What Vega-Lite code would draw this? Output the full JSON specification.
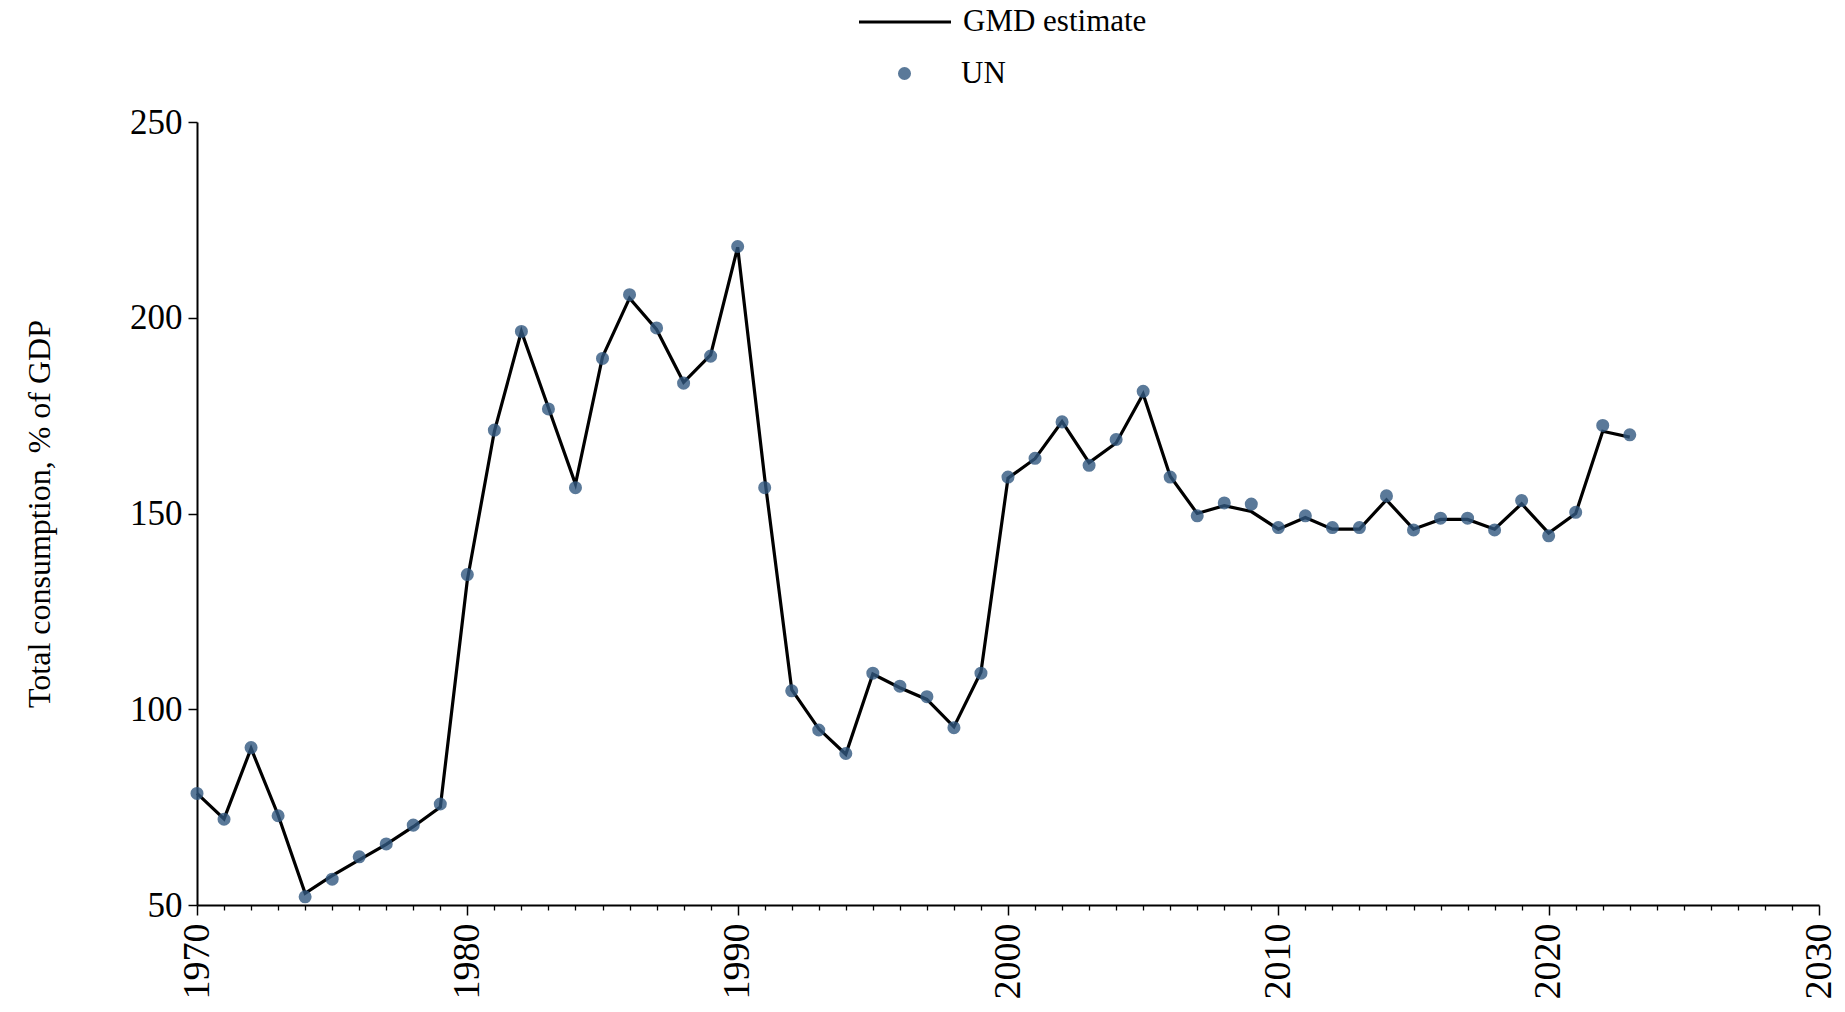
{
  "$schema": "https://vega.github.io/schema/vega-lite/v6.json",
  "autosize": {"type": "none"},
  "width": 1622,
  "height": 783,
  "padding": {"left": 197, "top": 122, "right": 26, "bottom": 107},
  "background": "white",
  "config": {
    "view": {"stroke": null},
    "font": "Liberation Serif",
    "axis": {"labelFont": "Liberation Serif", "titleFont": "Liberation Serif", "labelColor": "black", "titleColor": "black", "domainColor": "black", "tickColor": "black", "grid": false, "titleFontWeight": "normal"},
    "legend": {"labelFont": "Liberation Serif", "labelColor": "black", "padding": 0}
  },
  "data": {"values": [
    {"year": 1970, "gmd": 78.5, "un": 78.5},
    {"year": 1971, "gmd": 72, "un": 71.9},
    {"year": 1972, "gmd": 90, "un": 90.2},
    {"year": 1973, "gmd": 73, "un": 72.8},
    {"year": 1974, "gmd": 53, "un": 52.1},
    {"year": 1975, "gmd": 57.5, "un": 56.6},
    {"year": 1976, "gmd": 61.5, "un": 62.3},
    {"year": 1977, "gmd": 65.5, "un": 65.6},
    {"year": 1978, "gmd": 70, "un": 70.4},
    {"year": 1979, "gmd": 75, "un": 75.8},
    {"year": 1980, "gmd": 133, "un": 134.4},
    {"year": 1981, "gmd": 171, "un": 171.3},
    {"year": 1982, "gmd": 196.5, "un": 196.5},
    {"year": 1983, "gmd": 177, "un": 176.7},
    {"year": 1984, "gmd": 157.5, "un": 156.6},
    {"year": 1985, "gmd": 190, "un": 189.6},
    {"year": 1986, "gmd": 205, "un": 205.9},
    {"year": 1987, "gmd": 197, "un": 197.4},
    {"year": 1988, "gmd": 183.5, "un": 183.3},
    {"year": 1989, "gmd": 190.5, "un": 190.2},
    {"year": 1990, "gmd": 218, "un": 218.2},
    {"year": 1991, "gmd": 159, "un": 156.6},
    {"year": 1992, "gmd": 105, "un": 104.7},
    {"year": 1993, "gmd": 95, "un": 94.7},
    {"year": 1994, "gmd": 88.5, "un": 88.7},
    {"year": 1995, "gmd": 109, "un": 109.2},
    {"year": 1996, "gmd": 105.5, "un": 105.9},
    {"year": 1997, "gmd": 102.5, "un": 103.2},
    {"year": 1998, "gmd": 95.5, "un": 95.3},
    {"year": 1999, "gmd": 109.5, "un": 109.2},
    {"year": 2000, "gmd": 159, "un": 159.3},
    {"year": 2001, "gmd": 164, "un": 164.1},
    {"year": 2002, "gmd": 173.5, "un": 173.4},
    {"year": 2003, "gmd": 163, "un": 162.3},
    {"year": 2004, "gmd": 168, "un": 168.9},
    {"year": 2005, "gmd": 180.5, "un": 181.2},
    {"year": 2006, "gmd": 159.5, "un": 159.3},
    {"year": 2007, "gmd": 150, "un": 149.4},
    {"year": 2008, "gmd": 152, "un": 152.7},
    {"year": 2009, "gmd": 150.5, "un": 152.4},
    {"year": 2010, "gmd": 146, "un": 146.4},
    {"year": 2011, "gmd": 149, "un": 149.4},
    {"year": 2012, "gmd": 146, "un": 146.4},
    {"year": 2013, "gmd": 146, "un": 146.4},
    {"year": 2014, "gmd": 153.5, "un": 154.5},
    {"year": 2015, "gmd": 146, "un": 145.8},
    {"year": 2016, "gmd": 148.5, "un": 148.8},
    {"year": 2017, "gmd": 148.5, "un": 148.8},
    {"year": 2018, "gmd": 146, "un": 145.8},
    {"year": 2019, "gmd": 152.5, "un": 153.3},
    {"year": 2020, "gmd": 145, "un": 144.3},
    {"year": 2021, "gmd": 150, "un": 150.3},
    {"year": 2022, "gmd": 171, "un": 172.5},
    {"year": 2023, "gmd": 169.5, "un": 170.1}
  ]},
  "resolve": {"axis": {"x": "independent"}},
  "layer": [
    {
      "mark": {"type": "line", "strokeWidth": 3.2, "clip": false},
      "encoding": {
        "x": {"field": "year", "type": "quantitative",
          "scale": {"domain": [1970, 2030], "nice": false, "zero": false},
          "axis": {"orient": "bottom", "title": null, "values": [1970, 1980, 1990, 2000, 2010, 2020, 2030], "format": "d",
            "labelAngle": -90, "labelFontSize": 38, "labelPadding": 8, "tickSize": 10, "tickWidth": 1.5, "domainWidth": 2.2, "labelFlush": false, "labelOverlap": false}},
        "y": {"field": "gmd", "type": "quantitative",
          "scale": {"domain": [50, 250], "nice": false, "zero": false},
          "axis": {"title": "Total consumption, % of GDP", "values": [50, 100, 150, 200, 250], "labelFontSize": 35, "titleFontSize": 32,
            "tickSize": 9, "tickWidth": 1.5, "domainWidth": 2, "labelPadding": 6, "titlePadding": 73, "labelFlush": false}},
        "stroke": {"datum": "GMD estimate", "type": "nominal",
          "scale": {"range": ["black"]},
          "legend": {"title": null, "orient": "none", "legendX": 660, "legendY": -148, "symbolType": "stroke", "symbolSize": 8464, "symbolStrokeWidth": 3.2, "symbolStrokeColor": "black", "labelFontSize": 31, "labelOffset": 10, "labelLimit": 400}}
      }
    },
    {
      "mark": {"type": "point", "filled": true, "shape": "circle", "size": 170, "opacity": 0.8, "clip": false},
      "encoding": {
        "x": {"field": "year", "type": "quantitative",
          "axis": {"orient": "bottom", "title": null, "values": [1971,1972,1973,1974,1975,1976,1977,1978,1979,1981,1982,1983,1984,1985,1986,1987,1988,1989,1991,1992,1993,1994,1995,1996,1997,1998,1999,2001,2002,2003,2004,2005,2006,2007,2008,2009,2011,2012,2013,2014,2015,2016,2017,2018,2019,2021,2022,2023,2024,2025,2026,2027,2028,2029],
            "labels": false, "domain": false, "tickSize": 5, "tickWidth": 1.3}},
        "y": {"field": "un", "type": "quantitative"},
        "fill": {"datum": "UN", "type": "nominal",
          "scale": {"range": ["#31587f"]},
          "legend": {"title": null, "orient": "none", "legendX": 692, "legendY": -64, "symbolType": "circle", "symbolSize": 170, "symbolOpacity": 0.8, "symbolFillColor": "#31587f", "symbolStrokeWidth": 0, "labelFontSize": 31, "labelOffset": 41}}
      }
    }
  ]
}
